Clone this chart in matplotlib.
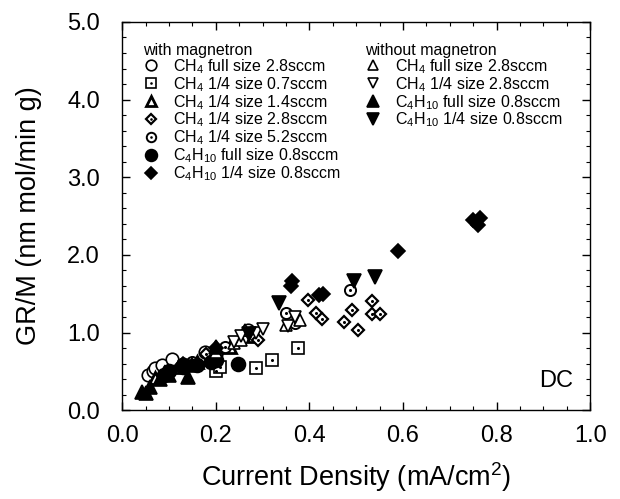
import matplotlib
matplotlib.use("Agg")
import matplotlib.pyplot as plt
from matplotlib.ticker import MultipleLocator

plt.rcParams['font.family'] = ['Liberation Sans', 'DejaVu Sans']
plt.rcParams['mathtext.fontset'] = 'custom'
plt.rcParams['mathtext.rm'] = 'Liberation Sans'
plt.rcParams['mathtext.it'] = 'Liberation Sans:italic'

# with magnetron
ch4_full_28_x = [0.055, 0.065, 0.07, 0.085, 0.107, 0.13, 0.178, 0.2, 0.268]
ch4_full_28_y = [0.45, 0.5, 0.54, 0.58, 0.66, 0.6, 0.75, 0.72, 1.03]
ch4_q_07_x = [0.2, 0.21, 0.285, 0.32, 0.375]
ch4_q_07_y = [0.5, 0.56, 0.54, 0.65, 0.8]
ch4_q_14_x = [0.07, 0.09, 0.12, 0.16, 0.19, 0.23, 0.28]
ch4_q_14_y = [0.42, 0.48, 0.55, 0.62, 0.7, 0.82, 0.95]
ch4_q_28_x = [0.18, 0.29, 0.396, 0.415, 0.428, 0.49, 0.475, 0.503, 0.533, 0.533, 0.55]
ch4_q_28_y = [0.72, 0.9, 1.42, 1.25, 1.17, 1.29, 1.13, 1.03, 1.40, 1.24, 1.24]
ch4_q_52_x = [0.15, 0.22, 0.35, 0.37, 0.486]
ch4_q_52_y = [0.62, 0.82, 1.25, 1.12, 1.55]
c4_full_08_x = [0.09, 0.1, 0.13, 0.16, 0.19, 0.2, 0.248]
c4_full_08_y = [0.45, 0.5, 0.55, 0.58, 0.62, 0.65, 0.6]
c4_q_08_x = [0.13, 0.2, 0.36, 0.362, 0.42, 0.43, 0.59, 0.75, 0.76, 0.765]
c4_q_08_y = [0.6, 0.8, 1.6, 1.66, 1.48, 1.49, 2.05, 2.45, 2.38, 2.47]

# without magnetron
nm_ch4_full_x = [0.2, 0.24, 0.253, 0.263, 0.35, 0.38]
nm_ch4_full_y = [0.75, 0.87, 0.9, 1.03, 1.1, 1.16]
nm_ch4_q_x = [0.24, 0.253, 0.285, 0.3, 0.355, 0.37]
nm_ch4_q_y = [0.88, 0.95, 0.99, 1.05, 1.08, 1.2]
nm_c4_full_x = [0.043, 0.05, 0.06, 0.08, 0.1, 0.14, 0.15, 0.2]
nm_c4_full_y = [0.24, 0.22, 0.3, 0.4, 0.45, 0.43, 0.58, 0.81]
nm_c4_q_x = [0.14, 0.27, 0.335, 0.495, 0.54]
nm_c4_q_y = [0.55, 0.98, 1.38, 1.67, 1.72]

fig = plt.figure(figsize=(6.2, 4.99), dpi=100)
ax = fig.add_axes([0.197, 0.178, 0.755, 0.778])


def pts(x, y, marker, ms, filled=False, dot=False, mew=1.2):
    face = 'black' if filled else 'white'
    h = ax.plot(x, y, linestyle='none', marker=marker, ms=ms, mfc=face,
                mec='black', mew=mew)[0]
    if dot:
        d = ax.plot(x, y, linestyle='none', marker='o', ms=2.2, mfc='black',
                    mec='black', mew=0)[0]
        return (h, d)
    return h


h1 = pts(ch4_full_28_x, ch4_full_28_y, 'o', 9)
h2 = pts(ch4_q_07_x, ch4_q_07_y, 's', 8, dot=True)
h3 = pts(ch4_q_14_x, ch4_q_14_y, '^', 9, mew=2.0)
h4 = pts(ch4_q_28_x, ch4_q_28_y, 'D', 6.5, dot=True, mew=1.6)
h5 = pts(ch4_q_52_x, ch4_q_52_y, 'o', 8, dot=True, mew=1.4)
h6 = pts(c4_full_08_x, c4_full_08_y, 'o', 10, filled=True)
h7 = pts(c4_q_08_x, c4_q_08_y, 'D', 7, filled=True)
h8 = pts(nm_ch4_full_x, nm_ch4_full_y, '^', 9)
h9 = pts(nm_ch4_q_x, nm_ch4_q_y, 'v', 9)
h10 = pts(nm_c4_full_x, nm_c4_full_y, '^', 10, filled=True)
h11 = pts(nm_c4_q_x, nm_c4_q_y, 'v', 10, filled=True)

leg_kw = dict(frameon=False, fontsize=11.5, title_fontsize=11.5,
              handlelength=1.0, handletextpad=0.9, labelspacing=-0.05,
              borderpad=0.2, alignment='left', markerscale=0.85)
leg1 = ax.legend([h1, h2, h3, h4, h5, h6, h7],
                 [r'CH$_4$ full size 2.8sccm', r'CH$_4$ 1/4 size 0.7sccm',
                  r'CH$_4$ 1/4 size 1.4sccm', r'CH$_4$ 1/4 size 2.8sccm',
                  r'CH$_4$ 1/4 size 5.2sccm', r'C$_4$H$_{10}$ full size 0.8sccm',
                  r'C$_4$H$_{10}$ 1/4 size 0.8sccm'],
                 title='with magnetron', loc='upper left',
                 bbox_to_anchor=(0.02, 0.975), **leg_kw)
ax.add_artist(leg1)
ax.legend([h8, h9, h10, h11],
          [r'CH$_4$ full size 2.8sccm', r'CH$_4$ 1/4 size 2.8sccm',
           r'C$_4$H$_{10}$ full size 0.8sccm', r'C$_4$H$_{10}$ 1/4 size 0.8sccm'],
          title='without magnetron', loc='upper left',
          bbox_to_anchor=(0.495, 0.975), **leg_kw)

ax.text(0.927, 0.075, 'DC', transform=ax.transAxes, ha='center', va='center',
        fontsize=17)

ax.set_xlim(0, 1.0)
ax.set_ylim(0, 5.0)
ax.xaxis.set_major_locator(MultipleLocator(0.2))
ax.xaxis.set_minor_locator(MultipleLocator(0.05))
ax.yaxis.set_major_locator(MultipleLocator(1.0))
ax.yaxis.set_minor_locator(MultipleLocator(0.2))
ax.xaxis.set_major_formatter(plt.FormatStrFormatter('%.1f'))
ax.yaxis.set_major_formatter(plt.FormatStrFormatter('%.1f'))
ax.tick_params(which='both', direction='in', top=True, right=True,
               labelsize=17)
ax.tick_params(which='major', length=6, width=1.0)
ax.tick_params(which='minor', length=3, width=0.8)
ax.tick_params(axis='x', pad=11)
ax.tick_params(axis='y', pad=16)
for s in ax.spines.values():
    s.set_linewidth(1.0)

ax.set_xlabel('Current Density (mA/cm$^2$)', fontsize=19.5, labelpad=9)
ax.set_ylabel('GR/M (nm mol/min g)', fontsize=19.5, labelpad=18)

fig.savefig('out.png', dpi=100)
